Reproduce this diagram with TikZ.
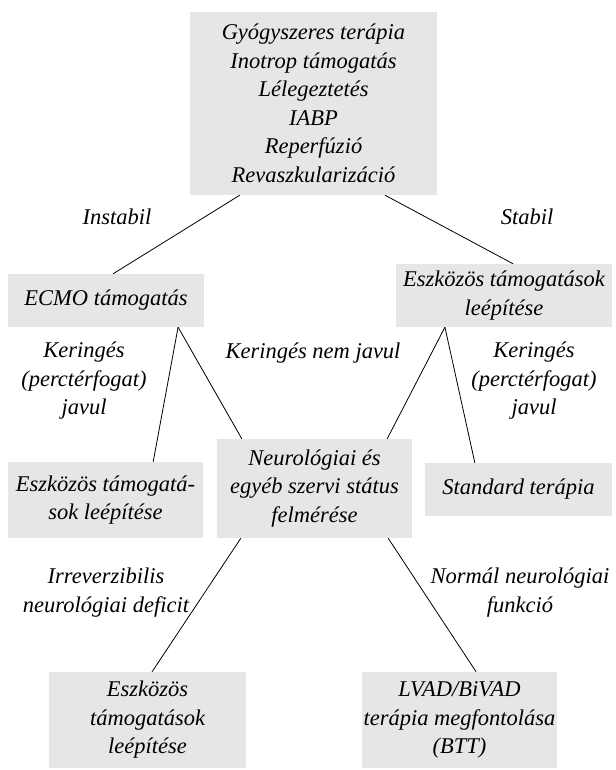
\documentclass[tikz,border=0pt]{standalone}
\usepackage{fontspec}
\setmainfont{Liberation Serif}
\usetikzlibrary{calc}
\definecolor{boxgray}{RGB}{230,230,230}
\tikzset{
  box/.style={fill=boxgray, draw=none, inner sep=0pt, align=center,
    font=\itshape\fontsize{22.5}{28.5}\selectfont},
  lbl/.style={inner sep=0pt, align=center,
    font=\itshape\fontsize{22.5}{28.5}\selectfont},
  link/.style={line width=0.8pt, black},
}
\begin{document}
\begin{tikzpicture}[x=1pt,y=-1pt]
\useasboundingbox (0,0) rectangle (615,770);

% boxes
\node[box, minimum width=247pt, minimum height=183pt] (top) at (313.5,103.5)
  {Gyógyszeres terápia\\Inotrop támogatás\\Lélegeztetés\\IABP\\Reperfúzió\\Revaszkularizáció};
\node[box, minimum width=196pt, minimum height=53pt] (ecmo) at (106,300.5)
  {ECMO támogatás};
\node[box, minimum width=216pt, minimum height=63pt] (lepit) at (504,295.5)
  {Eszközös támogatások\\leépítése};
\node[box, minimum width=195pt, minimum height=76pt] (lepitb) at (105.5,500)
  {Eszközös támogatá-\\sok leépítése};
\node[box, minimum width=195pt, minimum height=99pt] (neuro) at (314.5,488.5)
  {Neurológiai és\\egyéb szervi státus\\felmérése};
\node[box, minimum width=187pt, minimum height=53pt] (std) at (518.5,489.5)
  {Standard terápia};
\node[box, minimum width=197pt, minimum height=96pt] (lepitc) at (147.5,720)
  {Eszközös\\támogatások\\leépítése};
\node[box, minimum width=195pt, minimum height=96pt] (lvad) at (459.5,720)
  {LVAD/BiVAD\\terápia megfontolása\\(BTT)};

% branch labels
\node[lbl] (instabil) at (117,217) {Instabil};
\node[lbl] (stabil) at (527,217) {Stabil};
\node[lbl] (javulL) at (84,381) {Keringés\\(perctérfogat)\\javul};
\node[lbl] (nemjavul) at (313,353) {Keringés nem javul};
\node[lbl] (javulR) at (534,381) {Keringés\\(perctérfogat)\\javul};
\node[lbl] (irrev) at (106,592.5) {Irreverzibilis\\neurológiai deficit};
\node[lbl] (normal) at (520,592.5) {Normál neurológiai\\funkció};

% connectors
\draw[link] ($(top.south west)!0.202!(top.south east)$) -- ($(ecmo.north west)!0.536!(ecmo.north east)$);
\draw[link] ($(top.south west)!0.789!(top.south east)$) -- ($(lepit.north west)!0.542!(lepit.north east)$);
\draw[link] ($(ecmo.south west)!0.867!(ecmo.south east)$) -- ($(lepitb.north west)!0.744!(lepitb.north east)$);
\draw[link] ($(ecmo.south west)!0.867!(ecmo.south east)$) -- ($(neuro.north west)!0.128!(neuro.north east)$);
\draw[link] ($(lepit.south west)!0.227!(lepit.south east)$) -- ($(neuro.north west)!0.872!(neuro.north east)$);
\draw[link] ($(lepit.south west)!0.227!(lepit.south east)$) -- ($(std.north west)!0.267!(std.north east)$);
\draw[link] ($(neuro.south west)!0.123!(neuro.south east)$) -- ($(lepitc.north west)!0.523!(lepitc.north east)$);
\draw[link] ($(neuro.south west)!0.877!(neuro.south east)$) -- ($(lvad.north west)!0.585!(lvad.north east)$);
\end{tikzpicture}
\end{document}
